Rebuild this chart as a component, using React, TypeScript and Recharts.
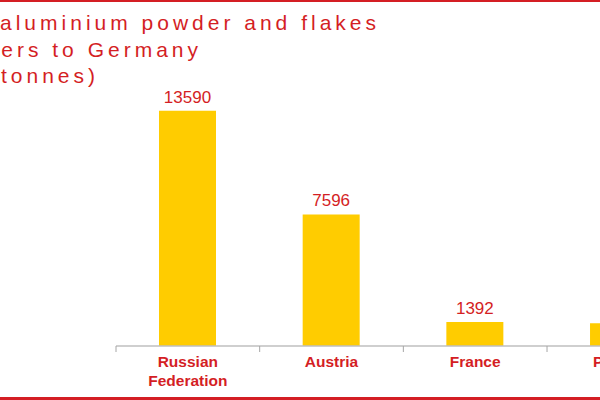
import React from 'react'
import { BarChart, Bar, XAxis, YAxis, LabelList } from 'recharts'

const RED = '#D41E24'
const GOLD = '#FFCC00'

const categories = ['Russian Federation', 'Austria', 'France', 'Poland']
const tonnes = [13590, 7596, 1392, 1310]
const titleLines = ['Top 5 aluminium powder and flakes', 'suppliers to Germany', '(in tonnes)']

const data = categories.map((name, i) => ({ name, value: tonnes[i] }))

const CHART_W = 703
const MARGIN_L = 116
const MARGIN_R = 12.3
const BAND = (CHART_W - MARGIN_L - MARGIN_R) / categories.length

// title is cut off on the left in the reference, so each line is anchored at its end
const titleEnds = [376, 198, 95]
const titleBaselines = [30, 56.5, 83]

const splitLabel = (s: string) => (s.length > 12 ? s.split(' ') : [s])

const CategoryTick = ({ x, y, payload }: { x?: number; y?: number; payload?: { value: string } }) => {
  const lines = splitLabel(payload?.value ?? '')
  const left = (x ?? 0) - BAND / 2
  return (
    <g>
      <line x1={left} x2={left} y1={y! - 8} y2={y! - 2} stroke="#A6A6A6" strokeWidth={1} />
      <text
        x={x}
        y={(y ?? 0) + 13}
        textAnchor="middle"
        fill={RED}
        fontFamily="Arial, 'Liberation Sans', sans-serif"
        fontWeight="bold"
        fontSize={15.5}
      >
        {lines.map((l, i) => (
          <tspan key={l} x={x} dy={i === 0 ? 0 : 19}>
            {l}
          </tspan>
        ))}
      </text>
    </g>
  )
}

export default function App() {
  return (
    <div
      style={{
        position: 'fixed',
        left: 0,
        top: 0,
        width: 600,
        height: 400,
        overflow: 'hidden',
        background: '#fff',
        fontFamily: "Arial, 'Liberation Sans', sans-serif",
      }}
    >
      <div style={{ position: 'absolute', left: 0, top: 0, width: 600, height: 2, background: RED }} />
      <div style={{ position: 'absolute', left: 0, top: 397, width: 600, height: 3, background: RED }} />
      <svg width={600} height={100} style={{ position: 'absolute', left: 0, top: 0 }}>
        {titleLines.map((t, i) => (
          <text
            key={t}
            x={titleEnds[i] + 4}
            y={titleBaselines[i]}
            textAnchor="end"
            fill={RED}
            fontSize={21}
            letterSpacing={4}
            fontFamily="Arial, 'Liberation Sans', sans-serif"
          >
            {t}
          </text>
        ))}
      </svg>
      <div style={{ position: 'absolute', left: 0, top: 0 }}>
        <BarChart
          width={CHART_W}
          height={400}
          data={data}
          margin={{ top: 69, right: MARGIN_R, left: MARGIN_L, bottom: 0 }}
        >
          <YAxis hide domain={[0, 16000]} />
          <XAxis
            dataKey="name"
            height={54}
            interval={0}
            tickLine={false}
            axisLine={{ stroke: '#BFBFBF', strokeWidth: 1.5 }}
            tick={<CategoryTick />}
          />
          <Bar dataKey="value" fill={GOLD} barSize={57} isAnimationActive={false}>
            <LabelList
              dataKey="value"
              position="top"
              offset={8}
              fill={RED}
              fontSize={17}
              fontFamily="Arial, 'Liberation Sans', sans-serif"
            />
          </Bar>
        </BarChart>
      </div>
    </div>
  )
}
